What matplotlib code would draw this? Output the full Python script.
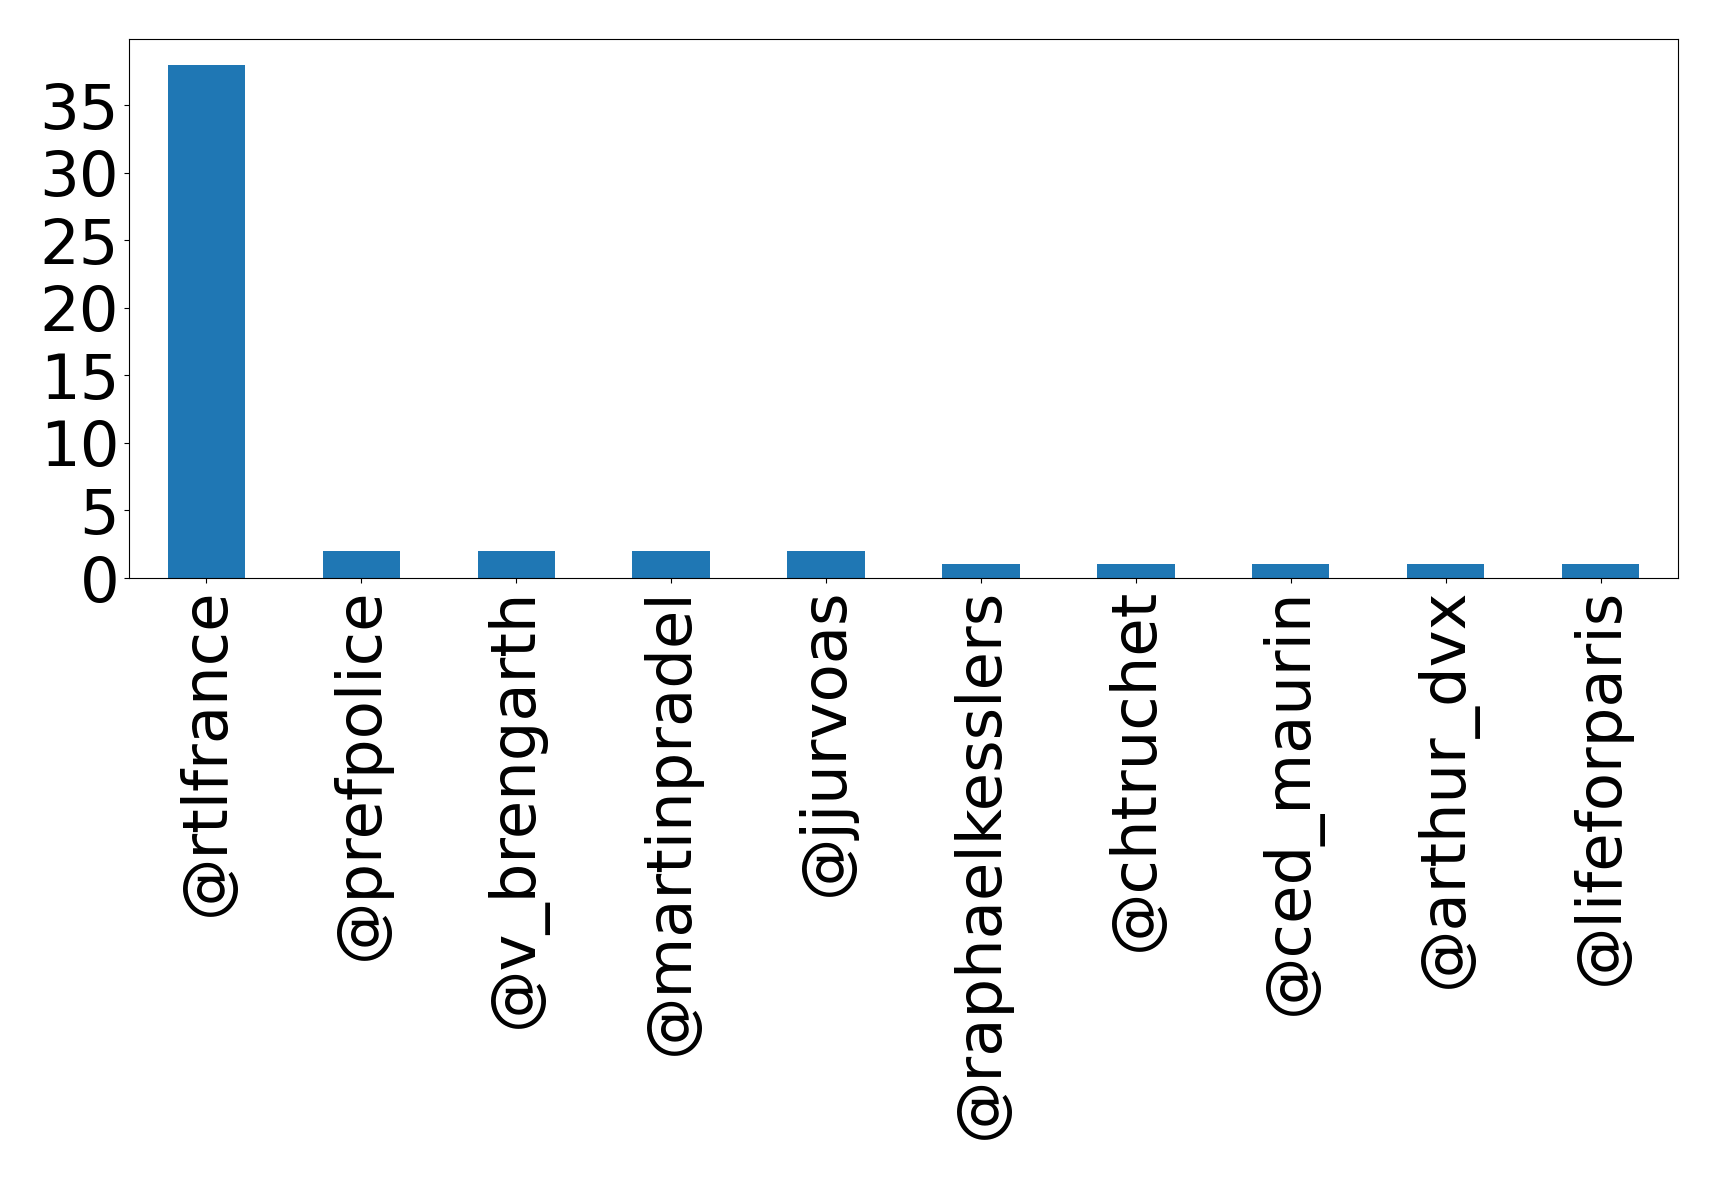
import matplotlib
matplotlib.use("Agg")
import matplotlib.pyplot as plt
import numpy as np

users = ["@rtlfrance", "@prefpolice", "@v_brengarth", "@martinpradel", "@jjurvoas",
         "@raphaelkesslers", "@chtruchet", "@ced_maurin", "@arthur_dvx", "@lifeforparis"]
counts = [38, 2, 2, 2, 2, 1, 1, 1, 1, 1]

fig = plt.figure(figsize=(17.19, 11.79), dpi=100)
W, H = 1719, 1179
left, right, top, bottom = 129, 1678, 39, 578
ax = fig.add_axes([left / W, 1 - bottom / H, (right - left) / W, (bottom - top) / H])
x = np.arange(len(users))
ax.bar(x, counts, width=0.5, color="#1f77b4")
ax.set_xlim(-0.5, len(users) - 0.5)
ax.set_ylim(0, 39.9)
ax.set_yticks([0, 5, 10, 15, 20, 25, 30, 35])
ax.set_xticks(x)
ax.set_xticklabels(users, rotation=90)
ax.tick_params(labelsize=45)
fig.savefig("out.png", dpi=100)
